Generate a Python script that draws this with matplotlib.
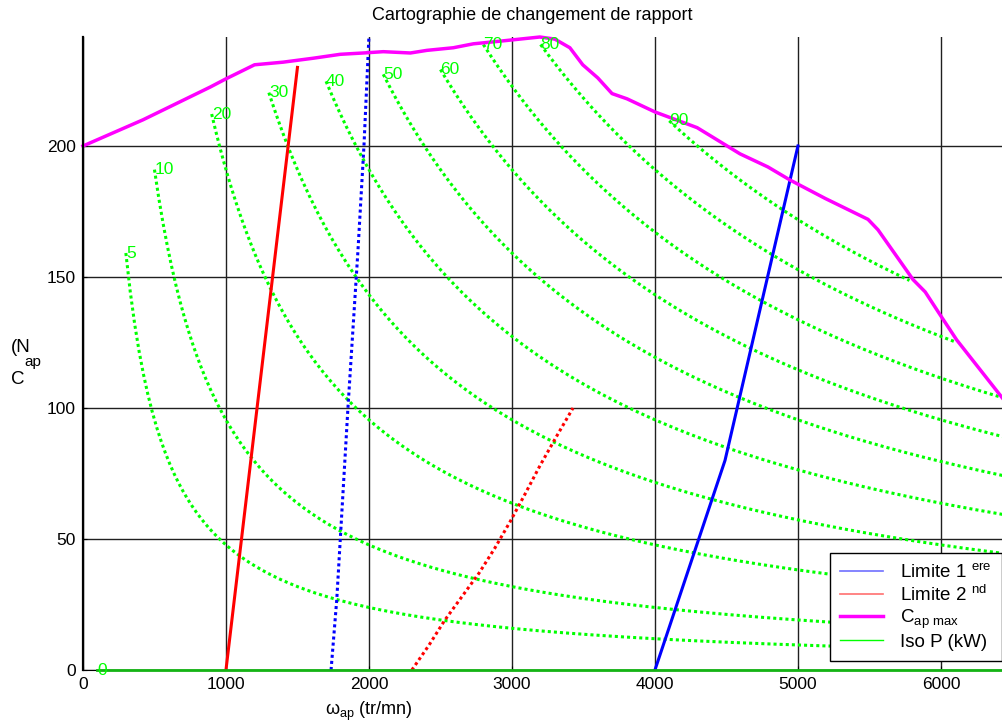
import numpy as np
import matplotlib
matplotlib.use("Agg")
import matplotlib.pyplot as plt

plt.rcParams['font.family'] = ['Liberation Sans', 'DejaVu Sans']
plt.rcParams['mathtext.default'] = 'regular'
plt.rcParams['font.size'] = 12.5

# couple max moteur (tr/mn, N.m)
cmax_w = [0, 420, 890, 995, 1200, 1400, 1610, 1800, 1960, 2100, 2290, 2405, 2590,
          2730, 2915, 3195, 3300, 3405, 3495, 3600, 3700, 3805, 4000, 4295, 4595,
          4790, 4945, 5190, 5490, 5560, 5805, 5890, 5995, 6110, 6430]
cmax_c = [200, 210, 222.5, 225.5, 231, 232, 233.5, 235, 235.5, 236, 235.5, 236.5, 237.5,
          239, 240, 241.6, 240.8, 237.5, 231, 226, 220, 218, 213, 207, 197,
          192, 187, 180, 172, 168, 149, 144.3, 135.5, 126, 103.8]

# limites de changement de rapport
lim1_w = [4000, 4490, 5000]
lim1_c = [0, 80, 200]
lim1b_w = [1735, 1775, 1853, 1923, 1965, 2000]
lim1b_c = [0, 27, 100, 160, 200, 242]
lim2_w = [1000, 1500]
lim2_c = [0, 230]
lim2b_w = [2300, 2420, 2530, 2650, 2770, 2880, 2986, 3090, 3196, 3310, 3427]
lim2b_c = [0, 9.5, 19, 28, 37, 46.5, 56.5, 67, 78, 89, 100]

# iso-puissance (kW) : vitesse de debut et de fin de chaque courbe
iso_p = [5, 10, 20, 30, 40, 50, 60, 70, 80, 90]
iso_w_start = [300, 500, 900, 1300, 1700, 2100, 2500, 2800, 3200, 4100]
iso_w_end = [6430, 6430, 6430, 6430, 6430, 6430, 6430, 6430, 6090, 5780]

green = '#00ff00'
dots = (0, (1, 1))

fig = plt.figure(figsize=(10.02, 7.27), dpi=100)
ax = fig.add_axes([0.0828, 0.0784, 0.9172, 0.8707])

ax.set_xlim(0, 6427)
ax.set_ylim(0, 241.6)
ax.set_xticks([0, 1000, 2000, 3000, 4000, 5000, 6000])
ax.set_yticks([0, 50, 100, 150, 200])
ax.grid(True, color='#202020', lw=1)
ax.set_axisbelow(True)
for s in ['top', 'right']:
    ax.spines[s].set_visible(False)
ax.spines['left'].set_linewidth(1.6)
ax.tick_params(direction='in', length=3, labelsize=12.5, pad=5)

# courbes iso P : C = P / omega
for p, w0, w1 in zip(iso_p, iso_w_start, iso_w_end):
    w = np.linspace(w0, w1, 200)
    c = p * 1000 * 30 / (np.pi * w)
    ax.plot(w, c, color=green, lw=2.2, ls=dots)
    ax.text(w0, c[0], str(p), color=green, fontsize=12.5, ha='left', va='center')
ax.plot([100, 6427], [0, 0], color='#14b414', lw=2, clip_on=False, zorder=3)
ax.text(100, 0, '0', color=green, fontsize=12.5, ha='left', va='center')

ax.plot(lim2_w, lim2_c, color='red', lw=2.2)
ax.plot(lim1b_w, lim1b_c, color='blue', lw=2.2, ls=dots)
ax.plot(lim2b_w, lim2b_c, color='red', lw=2.2, ls=dots)
ax.plot(lim1_w, lim1_c, color='blue', lw=2.2)
ax.plot(cmax_w, cmax_c, color='#ff00ff', lw=2.5, clip_on=False)

# legende
h1, = ax.plot([], [], color='#6f6fff', lw=1.2)
h2, = ax.plot([], [], color='#ff6f6f', lw=1.2)
h3, = ax.plot([], [], color='#ff00ff', lw=2.5)
h4, = ax.plot([], [], color=green, lw=1)
leg = ax.legend([h1, h2, h3, h4],
                ['Limite 1 $^{ere}$', 'Limite 2 $^{nd}$', 'C$_{ap\\ max}$', 'Iso P (kW)'],
                loc='upper left', bbox_to_anchor=(0.8128, 0.1848), fancybox=False,
                framealpha=1, edgecolor='black', fontsize=13.5, handlelength=2.3,
                labelspacing=0.15, borderpad=0.55, handletextpad=0.9, borderaxespad=0)
leg.get_frame().set_linewidth(1)

fig.text(532 / 1002, 1 - 15 / 727, 'Cartographie de changement de rapport',
         ha='center', va='center', fontsize=13)
fig.text(325 / 1002, 1 - 711 / 727, 'ω$_{ap}$ (tr/mn)', ha='left', va='center', fontsize=13)
fig.text(11 / 1002, 1 - 348 / 727, '(N', ha='left', va='center', fontsize=13.5)
fig.text(24 / 1002, 1 - 362 / 727, 'ap', ha='left', va='center', fontsize=11)
fig.text(11 / 1002, 1 - 380 / 727, 'C', ha='left', va='center', fontsize=13.5)

fig.savefig('out.png', dpi=100)
